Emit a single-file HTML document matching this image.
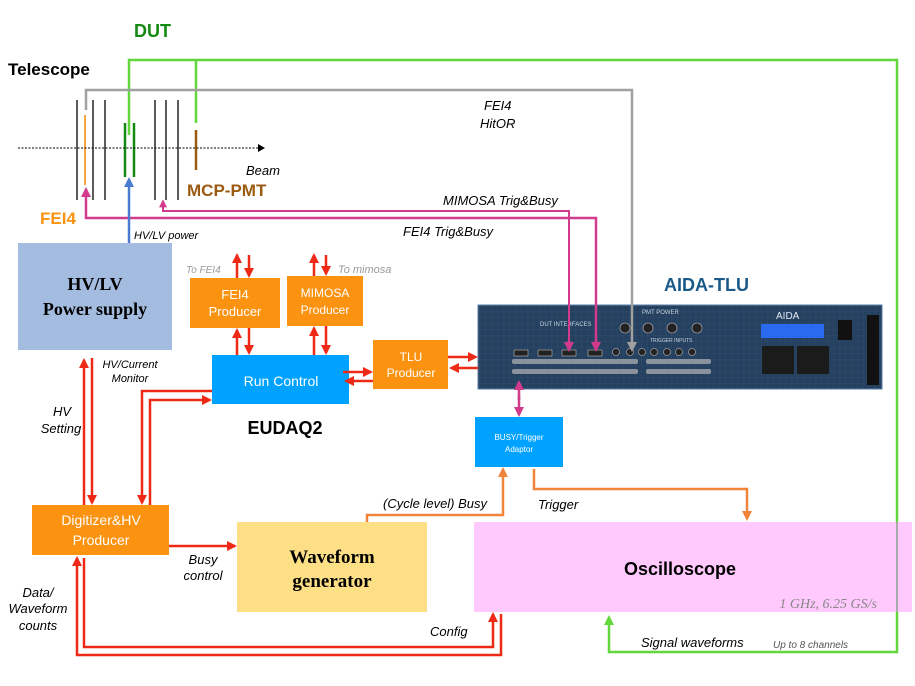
<!DOCTYPE html>
<html><head><meta charset="utf-8"><style>body{margin:0;background:#fff}svg{display:block}text{font-family:"Liberation Sans",sans-serif}</style></head><body>
<svg width="915" height="686" viewBox="0 0 915 686" xmlns="http://www.w3.org/2000/svg">
<defs>
<marker id="r" markerWidth="4" markerHeight="4" refX="3.2" refY="2" orient="auto" markerUnits="strokeWidth"><path d="M0,0 L4,2 L0,4z" fill="#ee2a17"/></marker>
<marker id="m" markerWidth="4" markerHeight="4" refX="3.2" refY="2" orient="auto" markerUnits="strokeWidth"><path d="M0,0 L4,2 L0,4z" fill="#d23a8c"/></marker>
<marker id="o" markerWidth="4" markerHeight="4" refX="3.2" refY="2" orient="auto" markerUnits="strokeWidth"><path d="M0,0 L4,2 L0,4z" fill="#f0843a"/></marker>
<marker id="g" markerWidth="4" markerHeight="4" refX="3.2" refY="2" orient="auto" markerUnits="strokeWidth"><path d="M0,0 L4,2 L0,4z" fill="#62d63a"/></marker>
<marker id="gr" markerWidth="4" markerHeight="4" refX="3.2" refY="2" orient="auto" markerUnits="strokeWidth"><path d="M0,0 L4,2 L0,4z" fill="#a0a0a0"/></marker>
<marker id="b" markerWidth="4" markerHeight="4" refX="3.2" refY="2" orient="auto" markerUnits="strokeWidth"><path d="M0,0 L4,2 L0,4z" fill="#4a7bd0"/></marker>
<pattern id="grid" width="6" height="6" patternUnits="userSpaceOnUse"><rect width="6" height="6" fill="#26405f"/><path d="M6 0V6H0" fill="none" stroke="#34557a" stroke-width="0.6"/></pattern>
</defs>

<!-- TLU panel -->
<rect x="478" y="305" width="404" height="84" fill="url(#grid)" stroke="#5b7ea6"/>
<text x="540" y="326" font-size="6" fill="#c8d4e2">DUT INTERFACES</text>
<text x="642" y="314" font-size="6" fill="#c8d4e2">PMT POWER</text>
<text x="650" y="342" font-size="5" fill="#c8d4e2">TRIGGER INPUTS</text>
<text x="776" y="319" font-size="10" fill="#dfe8f2">AIDA</text>
<rect x="761" y="324" width="63" height="14" fill="#2a6af0"/>
<rect x="838" y="320" width="14" height="20" fill="#111"/>
<rect x="867" y="315" width="12" height="70" fill="#111"/>
<rect x="762" y="346" width="32" height="28" fill="#1b1b1b"/>
<rect x="797" y="346" width="32" height="28" fill="#1b1b1b"/>
<g fill="#222" stroke="#999" stroke-width="0.8">
<rect x="514" y="350" width="14" height="6"/><rect x="538" y="350" width="14" height="6"/><rect x="562" y="350" width="14" height="6"/><rect x="588" y="350" width="14" height="6"/>
<circle cx="625" cy="328" r="5"/><circle cx="648" cy="328" r="5"/><circle cx="672" cy="328" r="5"/><circle cx="697" cy="328" r="5"/>
<circle cx="616" cy="352" r="3.5"/><circle cx="630" cy="352" r="3.5"/><circle cx="642" cy="352" r="3.5"/><circle cx="654" cy="352" r="3.5"/><circle cx="667" cy="352" r="3.5"/><circle cx="679" cy="352" r="3.5"/><circle cx="692" cy="352" r="3.5"/>
</g>
<g fill="#8a939d"><rect x="512" y="359" width="80" height="5" rx="2"/><rect x="512" y="369" width="80" height="5" rx="2"/><rect x="578" y="359" width="60" height="5" rx="2"/><rect x="578" y="369" width="60" height="5" rx="2"/><rect x="646" y="359" width="65" height="5" rx="2"/><rect x="646" y="369" width="65" height="5" rx="2"/></g>

<!-- green DUT lines -->
<g fill="none" stroke="#62d63a" stroke-width="2.5">
<path d="M129 135 V60 H897 V652 H609 V617" marker-end="url(#g)"/>
<path d="M196 60 V123"/>
</g>
<!-- gray HitOR -->
<path d="M86 110 V90 H632 V350" fill="none" stroke="#a0a0a0" stroke-width="2.5" marker-end="url(#gr)"/>

<!-- telescope planes -->
<g stroke="#333" stroke-width="1.6">
<line x1="77" y1="100" x2="77" y2="200"/><line x1="93" y1="100" x2="93" y2="200"/><line x1="105" y1="100" x2="105" y2="200"/>
<line x1="155" y1="100" x2="155" y2="200"/><line x1="166" y1="100" x2="166" y2="200"/><line x1="178" y1="100" x2="178" y2="200"/>
</g>
<line x1="85" y1="115" x2="85" y2="185" stroke="#f8a540" stroke-width="2"/>
<line x1="125" y1="123" x2="125" y2="177" stroke="#138a12" stroke-width="2.5"/>
<line x1="134" y1="123" x2="134" y2="177" stroke="#138a12" stroke-width="2.5"/>
<line x1="196" y1="130" x2="196" y2="170" stroke="#9a5a10" stroke-width="2.5"/>
<line x1="18" y1="148" x2="258" y2="148" stroke="#000" stroke-width="1" stroke-dasharray="2,1.5"/>
<path d="M258 144 L265 148 L258 152z" fill="#000"/>

<!-- magenta -->
<g fill="none" stroke="#d23a8c" stroke-width="2.5">
<path d="M596 350 V218 H86 V189" marker-end="url(#m)"/>
<path d="M569 350 V211 H163 V201" marker-end="url(#m)" stroke-width="2"/>
<path d="M519 395 V415" marker-end="url(#m)"/>
<path d="M519 400 V382" marker-end="url(#m)"/>
</g>
<path d="M596 340 V350" stroke="#d23a8c" stroke-width="2.5" marker-end="url(#m)"/>
<path d="M569 340 V350" stroke="#d23a8c" stroke-width="2.5" marker-end="url(#m)"/>

<!-- texts top -->
<text x="134" y="37" font-size="18" font-weight="bold" fill="#138a12">DUT</text>
<text x="8" y="75" font-size="17" font-weight="bold">Telescope</text>
<text x="246" y="175" font-size="13" font-style="italic">Beam</text>
<text x="187" y="196" font-size="17" font-weight="bold" fill="#9a5a10">MCP-PMT</text>
<text x="40" y="224" font-size="17" font-weight="bold" fill="#fb9210">FEI4</text>
<text x="134" y="239" font-size="11" font-style="italic">HV/LV power</text>
<text x="484" y="110" font-size="13" font-style="italic">FEI4</text>
<text x="480" y="128" font-size="13" font-style="italic">HitOR</text>
<text x="443" y="205" font-size="13" font-style="italic">MIMOSA Trig&amp;Busy</text>
<text x="403" y="236" font-size="13" font-style="italic">FEI4 Trig&amp;Busy</text>
<text x="664" y="291" font-size="18" font-weight="bold" fill="#1a5a8a">AIDA-TLU</text>

<!-- HV/LV box -->
<rect x="18" y="243" width="154" height="107" fill="#a4bce0"/>
<text x="95" y="290" font-size="18" font-weight="bold" text-anchor="middle" style="font-family:'Liberation Serif',serif">HV/LV</text>
<text x="95" y="315" font-size="18" font-weight="bold" text-anchor="middle" style="font-family:'Liberation Serif',serif">Power supply</text>
<path d="M129 243 V179" stroke="#4a7bd0" stroke-width="2.5" marker-end="url(#b)"/>

<!-- boxes -->
<rect x="190" y="278" width="90" height="50" fill="#fb9210"/>
<text x="235" y="299" font-size="13" fill="#fff" text-anchor="middle">FEI4</text>
<text x="235" y="316" font-size="13" fill="#fff" text-anchor="middle">Producer</text>
<rect x="287" y="276" width="76" height="50" fill="#fb9210"/>
<text x="325" y="297" font-size="12" fill="#fff" text-anchor="middle">MIMOSA</text>
<text x="325" y="314" font-size="12" fill="#fff" text-anchor="middle">Producer</text>
<text x="186" y="273" font-size="10" font-style="italic" fill="#999">To FEI4</text>
<text x="338" y="273" font-size="11" font-style="italic" fill="#999">To mimosa</text>
<rect x="212" y="355" width="137" height="49" fill="#00a2ff"/>
<text x="281" y="386" font-size="14" fill="#fff" text-anchor="middle">Run Control</text>
<rect x="373" y="340" width="75" height="49" fill="#fb9210"/>
<text x="411" y="361" font-size="12" fill="#fff" text-anchor="middle">TLU</text>
<text x="411" y="377" font-size="12" fill="#fff" text-anchor="middle">Producer</text>
<text x="285" y="434" font-size="18" font-weight="bold" text-anchor="middle">EUDAQ2</text>
<rect x="475" y="417" width="88" height="50" fill="#00a2ff"/>
<text x="519" y="440" font-size="8" fill="#fff" text-anchor="middle">BUSY/Trigger</text>
<text x="519" y="452" font-size="8" fill="#fff" text-anchor="middle">Adaptor</text>
<rect x="32" y="505" width="137" height="50" fill="#fb9210"/>
<text x="101" y="525" font-size="14" fill="#fff" text-anchor="middle">Digitizer&amp;HV</text>
<text x="101" y="545" font-size="14" fill="#fff" text-anchor="middle">Producer</text>
<rect x="237" y="522" width="190" height="90" fill="#fddf86"/>
<text x="332" y="563" font-size="19" font-weight="bold" text-anchor="middle" style="font-family:'Liberation Serif',serif">Waveform</text>
<text x="332" y="587" font-size="19" font-weight="bold" text-anchor="middle" style="font-family:'Liberation Serif',serif">generator</text>
<rect x="474" y="522" width="438" height="90" fill="#ffc9fe"/>
<text x="680" y="575" font-size="18" font-weight="bold" text-anchor="middle">Oscilloscope</text>
<text x="877" y="608" font-size="14" font-style="italic" fill="#888" text-anchor="end" style="font-family:'Liberation Serif',serif">1 GHz, 6.25 GS/s</text>
<line x1="897" y1="522" x2="897" y2="612" stroke="#aaa" stroke-width="2"/>

<!-- red arrows -->
<g fill="none" stroke="#ee2a17" stroke-width="2.5">
<path d="M237 278 V255" marker-end="url(#r)"/><path d="M249 255 V276" marker-end="url(#r)"/>
<path d="M237 355 V330" marker-end="url(#r)"/><path d="M249 328 V353" marker-end="url(#r)"/>
<path d="M314 276 V255" marker-end="url(#r)"/><path d="M326 255 V274" marker-end="url(#r)"/>
<path d="M314 355 V328" marker-end="url(#r)"/><path d="M326 326 V353" marker-end="url(#r)"/>
<path d="M343 372 H371" marker-end="url(#r)"/><path d="M373 381 H346" marker-end="url(#r)"/>
<path d="M448 357 H476" marker-end="url(#r)"/><path d="M478 368 H451" marker-end="url(#r)"/>
<path d="M84 505 V360" marker-end="url(#r)"/><path d="M92 358 V503" marker-end="url(#r)"/>
<path d="M212 391 H142 V503" marker-end="url(#r)"/><path d="M150 505 V400 H210" marker-end="url(#r)"/>
<path d="M169 546 H235" marker-end="url(#r)"/>
<path d="M84 558 V647 H493 V614" marker-end="url(#r)"/>
<path d="M501 614 V655 H77 V558" marker-end="url(#r)"/>
</g>
<!-- orange -->
<g fill="none" stroke="#f0843a" stroke-width="2.5">
<path d="M367 522 V515 H503 V469" marker-end="url(#o)"/>
<path d="M534 469 V489 H747 V519" marker-end="url(#o)"/>
</g>

<!-- side labels -->
<g font-size="11" font-style="italic">
<text x="130" y="368" text-anchor="middle">HV/Current</text><text x="130" y="382" text-anchor="middle">Monitor</text>
</g>
<g font-size="13" font-style="italic">
<text x="62" y="416" text-anchor="middle">HV</text><text x="61" y="433" text-anchor="middle">Setting</text>
<text x="203" y="564" text-anchor="middle">Busy</text><text x="203" y="580" text-anchor="middle">control</text>
<text x="38" y="597" text-anchor="middle">Data/</text><text x="38" y="613" text-anchor="middle">Waveform</text><text x="38" y="630" text-anchor="middle">counts</text>
<text x="430" y="636">Config</text>
<text x="383" y="508">(Cycle level) Busy</text>
<text x="538" y="509">Trigger</text>
<text x="641" y="647">Signal waveforms</text>
</g>
<text x="773" y="648" font-size="10" font-style="italic" fill="#555">Up to 8 channels</text>
</svg>
</body></html>
